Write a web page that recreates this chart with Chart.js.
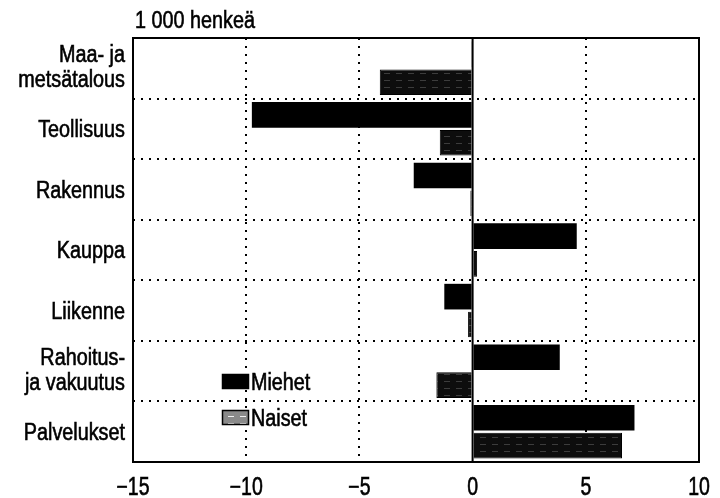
<!DOCTYPE html>
<html>
<head>
<meta charset="utf-8">
<script src="https://cdn.jsdelivr.net/npm/chart.js@4.4.1/dist/chart.umd.min.js"></script>
<style>
  html, body { margin: 0; padding: 0; background: #fff; }
  #wrap { width: 720px; height: 498px; }
</style>
</head>
<body>
<div id="wrap"><canvas id="chart" width="720" height="498"></canvas></div>
<script>
/* ============================================================
   DATA (1 000 henkeä)
   ============================================================ */
const categories = [
    ["Maa- ja", "metsätalous"],
    "Teollisuus",
    "Rakennus",
    "Kauppa",
    "Liikenne",
    ["Rahoitus-", "ja vakuutus"],
    "Palvelukset"
];
const seriesNames = ["Miehet", "Naiset"];
const miehet = [-0.05, -9.75, -2.6, 4.6, -1.25, 3.85, 7.15];
const naiset = [-4.1, -1.45, -0.1, 0.2, -0.2, -1.6, 6.6];
const xTicks = [-15, -10, -5, 0, 5, 10];
const unitLabel = "1 000 henkeä";

// condensed look: regular sans squeezed horizontally
const FONT = "'Liberation Sans', Arial, sans-serif";
const SQUEEZE = 0.86;

function fmtTick(v) {
    return v < 0 ? "\u2212" + Math.abs(v) : String(v);
}

/* hatch fills for Naiset: bars look almost black in the scan, legend lighter */
function makeHatch(base, streak) {
    const c = document.createElement("canvas");
    c.width = 12;
    c.height = 7;
    const g = c.getContext("2d");
    g.fillStyle = base;
    g.fillRect(0, 0, 12, 7);
    g.fillStyle = streak;
    g.fillRect(0, 3, 6, 1);
    return g.createPattern(c, "repeat");
}
const naisetFill = makeHatch("#0d0d0d", "#3c3c3c");
const naisetSwatch = makeHatch("#8a8a8a", "#f0f0f0");

// text a bit heavier than plain regular, like the scanned original
function squeezedText(ctx, text, x, y, align, sx) {
    ctx.save();
    ctx.translate(x, y);
    ctx.scale(sx, 1);
    ctx.textAlign = align;
    ctx.fillText(text, 0, 0);
    ctx.strokeStyle = ctx.fillStyle;
    ctx.lineWidth = 0.6;
    ctx.strokeText(text, 0, 0);
    ctx.restore();
}

/* ============================================================
   PLUGINS: frame + zero line, labels, unit title, legend
   ============================================================ */
const framePlugin = {
    id: "frame",
    afterDatasetsDraw(chart) {
        const { ctx, chartArea: a, scales } = chart;
        ctx.save();
        ctx.strokeStyle = "#000";
        ctx.lineWidth = 2;
        const x0 = scales.x.getPixelForValue(0);
        ctx.beginPath();
        ctx.moveTo(x0, a.top);
        ctx.lineTo(x0, a.bottom);
        ctx.stroke();
        ctx.strokeRect(a.left, a.top, a.right - a.left, a.bottom - a.top);
        ctx.restore();
    },
    afterDraw(chart) {
        const { ctx, scales } = chart;
        ctx.save();
        ctx.fillStyle = "#000";
        ctx.textBaseline = "alphabetic";

        // category labels
        ctx.font = "23px " + FONT;
        categories.forEach((label, i) => {
            const cy = scales.y.getPixelForValue(i);
            if (Array.isArray(label)) {
                squeezedText(ctx, label[0], 125, cy - 12.5 + 6.5, "right", SQUEEZE);
                squeezedText(ctx, label[1], 125, cy + 12.5 + 6.5, "right", SQUEEZE);
            } else {
                squeezedText(ctx, label, 125, cy + 8.2, "right", SQUEEZE);
            }
        });

        // x tick labels
        ctx.font = "25px " + FONT;
        xTicks.forEach(v => {
            squeezedText(ctx, fmtTick(v), scales.x.getPixelForValue(v), 495, "center", 0.78);
        });

        // unit title
        ctx.font = "23px " + FONT;
        squeezedText(ctx, unitLabel, 135, 28, "left", SQUEEZE);

        // legend
        const fills = ["#000", naisetSwatch];
        const tops = [374, 410];
        seriesNames.forEach((name, i) => {
            ctx.fillStyle = fills[i];
            ctx.fillRect(222, tops[i], 27, 15);
            ctx.strokeStyle = "#000";
            ctx.lineWidth = 1.5;
            ctx.strokeRect(222.5, tops[i] + 0.5, 26, 14);
            ctx.fillStyle = "#000";
            squeezedText(ctx, name, 251, tops[i] + 16, "left", SQUEEZE);
        });
        ctx.restore();
    }
};

/* ============================================================
   CHART
   ============================================================ */
new Chart(document.getElementById("chart"), {
    type: "bar",
    data: {
        labels: categories,
        datasets: [
            {
                label: seriesNames[0],
                data: miehet,
                backgroundColor: "#000",
                borderColor: "#000",
                borderWidth: 0
            },
            {
                label: seriesNames[1],
                data: naiset,
                backgroundColor: naisetFill,
                borderColor: "#000",
                borderWidth: 1
            }
        ]
    },
    options: {
        indexAxis: "y",
        responsive: false,
        animation: false,
        devicePixelRatio: 1,
        layout: { padding: { top: 38, right: 21, left: 0, bottom: 0 } },
        datasets: { bar: { categoryPercentage: 0.92, barPercentage: 0.92 } },
        plugins: {
            legend: { display: false },
            tooltip: { enabled: false }
        },
        scales: {
            x: {
                min: -15,
                max: 10,
                afterBuildTicks: scale => { scale.ticks = xTicks.map(v => ({ value: v })); },
                afterFit: scale => {
                    scale.height = 36;
                    scale.paddingLeft = 0;
                    scale.paddingRight = 0;
                },
                border: { display: false, dash: [2, 6] },
                grid: {
                    drawTicks: false,
                    lineWidth: 2,
                    color: ctx => [-10, -5, 5].includes(ctx.tick && ctx.tick.value) ? "#000" : "rgba(0,0,0,0)"
                },
                ticks: { display: false }
            },
            y: {
                afterFit: scale => { scale.width = 133; },
                border: { display: false, dash: [2, 6] },
                grid: {
                    offset: true,
                    drawTicks: false,
                    lineWidth: 2,
                    color: "#000"
                },
                ticks: { display: false }
            }
        }
    },
    plugins: [framePlugin]
});
</script>
</body>
</html>
